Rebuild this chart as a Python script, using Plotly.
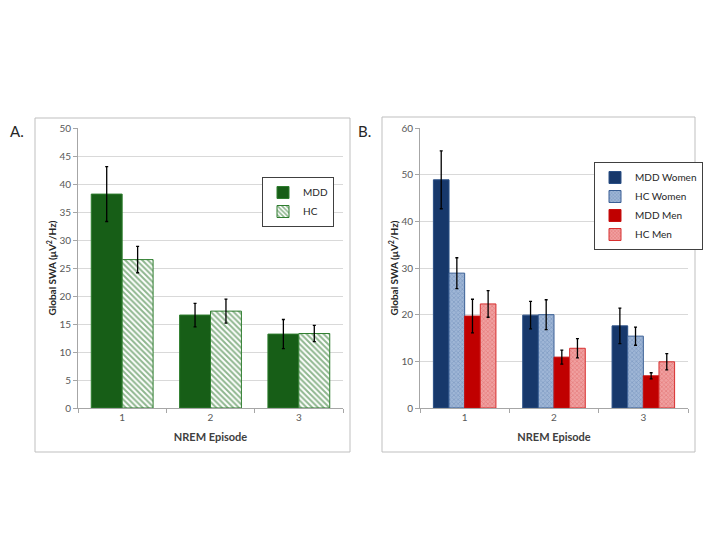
import plotly.graph_objects as go

episodes = ["1", "2", "3"]

# Panel A
a_mdd = [38.2, 16.6, 13.2]
a_mdd_err = [4.9, 2.1, 2.6]
a_hc = [26.5, 17.3, 13.3]
a_hc_err = [2.35, 2.15, 1.45]

# Panel B
b_mdd_w = [48.9, 19.9, 17.6]
b_mdd_w_err = [6.2, 2.95, 3.8]
b_hc_w = [28.9, 20.0, 15.4]
b_hc_w_err = [3.3, 3.2, 1.95]
b_mdd_m = [19.7, 10.9, 6.9]
b_mdd_m_err = [3.6, 1.5, 0.65]
b_hc_m = [22.3, 12.8, 9.9]
b_hc_m_err = [2.85, 2.05, 1.75]

W, H = 720, 540
OFF = 8  # page body margin
FONT = "Lato, Open Sans, sans-serif"
TICKC = "#595959"
GRID = "#d9d9d9"
AXC = "#a6a6a6"


def px(x):
    return (x - OFF) / W


def py(y):
    return 1 - (y - OFF) / H


def err(vals):
    return dict(type="data", array=vals, visible=True, color="black", thickness=1.3, width=1.5)


fig = go.Figure()

green = "#175e17"
fig.add_trace(go.Bar(x=episodes, y=a_mdd, name="MDD", xaxis="x", yaxis="y", legend="legend",
                     marker=dict(color=green, line=dict(color="#2e7d2e", width=1)),
                     error_y=err(a_mdd_err)))
fig.add_trace(go.Bar(x=episodes, y=a_hc, name="HC", xaxis="x", yaxis="y", legend="legend",
                     marker=dict(color="white", line=dict(color="#2e7d2e", width=1),
                                 pattern=dict(shape="\\", fgcolor="#1f6e1f", bgcolor="white",
                                              size=4, solidity=0.5, fillmode="overlay")),
                     error_y=err(a_hc_err)))

fig.add_trace(go.Bar(x=episodes, y=b_mdd_w, name="MDD Women", xaxis="x2", yaxis="y2", legend="legend2",
                     marker=dict(color="#17386b", line=dict(color="#2a4f85", width=1)),
                     error_y=err(b_mdd_w_err)))
fig.add_trace(go.Bar(x=episodes, y=b_hc_w, name="HC Women", xaxis="x2", yaxis="y2", legend="legend2",
                     marker=dict(color="#7f9cc6", line=dict(color="#3a5f95", width=1),
                                 pattern=dict(shape="x", fgcolor="#5f80b0", bgcolor="#9fb6d6",
                                              size=3, solidity=0.4, fillmode="overlay")),
                     error_y=err(b_hc_w_err)))
fig.add_trace(go.Bar(x=episodes, y=b_mdd_m, name="MDD Men", xaxis="x2", yaxis="y2", legend="legend2",
                     marker=dict(color="#c00000", line=dict(color="#c81010", width=1)),
                     error_y=err(b_mdd_m_err)))
fig.add_trace(go.Bar(x=episodes, y=b_hc_m, name="HC Men", xaxis="x2", yaxis="y2", legend="legend2",
                     marker=dict(color="#e57878", line=dict(color="#d83030", width=1),
                                 pattern=dict(shape="x", fgcolor="#da5858", bgcolor="#f0a0a0",
                                              size=3, solidity=0.4, fillmode="overlay")),
                     error_y=err(b_hc_m_err)))

xcommon = dict(type="category", showline=True, linecolor=AXC, linewidth=1, ticks="outside",
               tickson="boundaries", ticklen=4, tickcolor=AXC, showgrid=False, automargin=False,
               tickfont=dict(size=10, color=TICKC, family=FONT),
               title=dict(text="<b>NREM Episode</b>", font=dict(size=11, color="#404040", family=FONT), standoff=11),
               fixedrange=True)
ycommon = dict(showline=True, linecolor=AXC, linewidth=1, ticks="outside", ticklen=4, tickcolor=AXC,
               showgrid=True, gridcolor=GRID, gridwidth=1, zeroline=False, automargin=False,
               tickfont=dict(size=10, color=TICKC, family=FONT),
               title=dict(text="<b>Global SWA (μV<sup>2</sup>/Hz)</b>",
                          font=dict(size=10, color="#262626", family=FONT), standoff=0),
               fixedrange=True)

y0, y1 = py(408), py(128)

fig.update_layout(
    width=W, height=H,
    margin=dict(l=0, r=0, t=0, b=0, autoexpand=False),
    paper_bgcolor="white", plot_bgcolor="white",
    barmode="group",
    bargap=0.3,
    font=dict(family=FONT),
    xaxis=dict(xcommon, domain=[px(78), px(343)], anchor="y"),
    yaxis=dict(ycommon, domain=[y0, y1], anchor="x", range=[0, 50], dtick=5),
    xaxis2=dict(xcommon, domain=[px(420), px(688)], anchor="y2"),
    yaxis2=dict(ycommon, domain=[y0, y1], anchor="x2", range=[0, 60], dtick=10),
    legend=dict(x=px(262), y=py(177), xanchor="left", yanchor="top", bordercolor="#404040",
                borderwidth=1, bgcolor="white", font=dict(size=10, color="#262626", family=FONT),
                itemwidth=30),
    legend2=dict(x=px(594), y=py(162), xanchor="left", yanchor="top", bordercolor="#404040",
                 borderwidth=1, bgcolor="white", font=dict(size=10, color="#262626", family=FONT),
                 itemwidth=30),
    showlegend=True,
    shapes=[
        dict(type="rect", xref="paper", yref="paper", x0=px(35), x1=px(350), y0=py(452), y1=py(118),
             line=dict(color="#bfbfbf", width=1), layer="below"),
        dict(type="rect", xref="paper", yref="paper", x0=px(382), x1=px(695), y0=py(452), y1=py(117),
             line=dict(color="#bfbfbf", width=1), layer="below"),
    ],
    annotations=[
        dict(text="A.", xref="paper", yref="paper", x=px(8), y=py(131), xanchor="left", yanchor="middle",
             showarrow=False, font=dict(size=15, color="#262626", family=FONT)),
        dict(text="B.", xref="paper", yref="paper", x=px(356), y=py(131), xanchor="left", yanchor="middle",
             showarrow=False, font=dict(size=15, color="#262626", family=FONT)),
    ],
)

fig.write_html("out.html")
